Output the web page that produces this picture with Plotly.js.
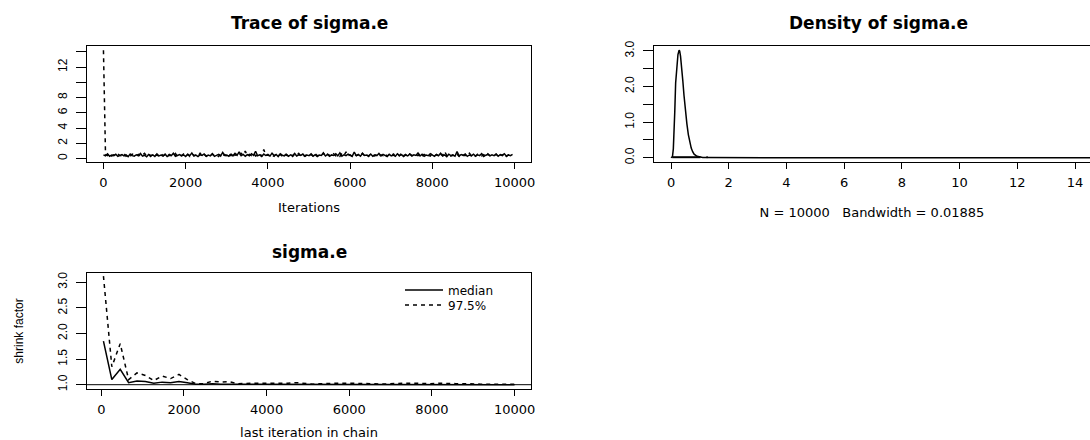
<!DOCTYPE html>
<html>
<head>
<meta charset="utf-8">
<script src="https://cdn.plot.ly/plotly-3.0.1.min.js"></script>
<style>html,body{margin:0;padding:0;background:#fff;}#chart{width:1090px;height:440px;}</style>
</head>
<body>
<div id="chart"></div>
<script>
// ---------- DATA ----------
// Trace of sigma.e: two chains, one value read every 50 iterations
const thinStep = 50;
const chain1 = [
0.48,0.35,0.61,0.29,0.44,0.38,0.55,0.27,0.41,0.52,
0.33,0.46,0.24,0.58,0.37,0.30,0.49,0.36,0.66,0.31,
0.43,0.22,0.53,0.39,0.47,0.28,0.62,0.34,0.45,0.32,
0.57,0.26,0.42,0.37,0.68,0.29,0.40,0.51,0.33,0.48,
0.27,0.56,0.38,0.73,0.31,0.45,0.25,0.50,0.40,0.59,
0.30,0.46,0.35,0.64,0.28,0.43,0.55,0.32,0.79,0.39,
0.44,0.29,0.57,0.35,0.67,0.42,0.88,0.37,0.53,0.30,
0.50,0.34,0.62,0.41,0.95,0.36,0.48,0.27,0.58,0.39,
0.45,0.31,0.70,0.38,0.52,0.26,0.61,0.43,0.34,0.56,
0.29,0.47,0.37,0.66,0.32,0.49,0.41,0.58,0.28,0.44,
0.36,0.60,0.31,0.51,0.25,0.45,0.39,0.69,0.33,0.54,
0.28,0.47,0.40,0.63,0.35,0.74,0.30,0.49,0.38,0.57,
0.43,0.27,0.85,0.36,0.52,0.31,0.64,0.40,0.46,0.33,
0.59,0.29,0.48,0.37,0.67,0.32,0.53,0.42,0.26,0.55,
0.34,0.44,0.30,0.61,0.38,0.50,0.27,0.46,0.35,0.58,
0.31,0.49,0.41,0.72,0.33,0.55,0.29,0.45,0.37,0.63,
0.40,0.28,0.52,0.36,0.68,0.32,0.47,0.25,0.56,0.39,
0.44,0.30,0.91,0.35,0.51,0.42,0.60,0.28,0.46,0.34,
0.57,0.31,0.48,0.38,0.65,0.27,0.43,0.53,0.33,0.47,
0.36,0.59,0.29,0.50,0.40,0.62,0.32,0.45,0.37,0.54];
const chain2 = [
14.20,0.52,0.38,0.61,0.33,0.47,0.29,0.56,0.40,0.35,
0.64,0.31,0.49,0.27,0.58,0.42,0.36,0.53,0.30,0.45,
0.69,0.34,0.50,0.26,0.57,0.39,0.44,0.32,0.62,0.37,
0.48,0.28,0.55,0.41,0.35,0.66,0.30,0.46,0.38,0.59,
0.33,0.52,0.27,0.61,0.40,0.47,0.31,0.70,0.36,0.54,
0.29,0.49,0.42,0.58,0.34,0.45,0.26,0.63,0.38,0.51,
0.32,0.60,0.37,0.82,0.41,0.56,0.30,0.67,0.44,0.98,
0.35,0.53,0.39,0.71,0.33,0.48,0.62,0.29,1.18,0.40,
0.55,0.34,0.46,0.28,0.60,0.37,0.50,0.31,0.64,0.42,
0.36,0.57,0.27,0.49,0.39,0.68,0.33,0.45,0.30,0.59,
0.41,0.52,0.28,0.63,0.35,0.47,0.38,0.74,0.32,0.56,
0.43,0.29,0.61,0.36,0.50,0.27,0.66,0.40,0.86,0.34,
0.48,0.31,0.57,0.39,0.45,0.33,0.70,0.37,0.53,0.28,
0.62,0.41,0.35,0.55,0.30,0.47,0.38,0.64,0.32,0.51,
0.26,0.59,0.40,0.46,0.34,0.73,0.36,0.52,0.29,0.58,
0.42,0.33,0.49,0.37,0.61,0.28,0.54,0.39,0.45,0.31,
0.67,0.35,0.50,0.27,0.56,0.41,0.93,0.38,0.60,0.32,
0.47,0.36,0.55,0.29,0.63,0.40,0.44,0.33,0.69,0.37,
0.52,0.30,0.58,0.42,0.35,0.49,0.27,0.61,0.39,0.46,
0.34,0.57,0.31,0.53,0.38,0.65,0.28,0.48,0.41,0.50];
const traceTicks = [0, 2000, 4000, 6000, 8000, 10000];
const traceYTicks = [0, 2, 4, 6, 8, 10, 12, 14];
const traceYLabels = ['0', '2', '4', '6', '8', '', '12', ''];

// Density of sigma.e
const densX = [0.00,0.05,0.08,0.10,0.13,0.16,0.20,0.24,0.28,0.30,0.33,0.37,0.41,0.45,0.50,0.55,0.60,0.65,0.70,0.75,0.80,0.90,1.00,1.10,1.25,1.50,2,4,6,8,10,12,14,14.55];
const densY = [0.00,0.03,0.25,0.60,1.30,2.10,2.60,2.90,3.02,3.00,2.85,2.55,2.15,1.75,1.30,0.95,0.65,0.42,0.27,0.17,0.10,0.04,0.015,0.006,0.003,0.001,0,0,0,0,0,0,0,0];
const rugObs = [0.04,0.10,0.20,0.30,0.40,0.50,0.60,0.70,0.80,0.90,1.02];
const rugIsolated = [1.25];
const rugHeight = 0.015;
const densTicks = [0, 2, 4, 6, 8, 10, 12, 14];
const densYTicks = [0, 0.5, 1, 1.5, 2, 2.5, 3];
const densYLabels = ['0.0', '', '1.0', '', '2.0', '', '3.0'];
const densLabel = 'N = 10000\u00a0\u00a0\u00a0Bandwidth = 0.01885';

// Gelman shrink factor
const gelIter = [51,254,457,660,863,1066,1269,1472,1675,1878,2081,2284,2487,2690,2893,3096,3299,3502,3705,3908,4111,4314,4517,4720,4923,5126,5329,5532,5735,5938,6141,6344,6547,6750,6953,7156,7359,7562,7765,7968,8171,8374,8577,8780,8983,9186,9389,9592,9795,10000];
const gelMedian = [1.85,1.10,1.30,1.04,1.07,1.06,1.03,1.05,1.04,1.06,1.04,1.01,1.01,1.02,1.01,1.01,1.00,1.01,1.01,1.01,1.01,1.00,1.01,1.01,1.00,1.00,1.00,1.01,1.01,1.01,1.01,1.01,1.00,1.00,1.00,1.01,1.01,1.01,1.00,1.00,1.00,1.00,1.00,1.00,1.00,1.00,1.00,1.00,1.00,1.00];
const gel975 = [3.12,1.35,1.80,1.10,1.23,1.18,1.08,1.17,1.12,1.20,1.10,1.02,1.02,1.07,1.05,1.06,1.02,1.03,1.03,1.03,1.03,1.02,1.03,1.04,1.02,1.01,1.02,1.03,1.03,1.03,1.03,1.03,1.02,1.01,1.02,1.03,1.03,1.03,1.02,1.02,1.03,1.02,1.02,1.02,1.01,1.01,1.01,1.01,1.01,1.01];
const gelYTicks = [1, 1.5, 2, 2.5, 3];
const gelYLabels = ['1.0', '1.5', '2.0', '2.5', '3.0'];
const shrinkRef = 1;

// ---------- PLOT ----------
const W = 1090, H = 440;
const px = v => v / W;
const py = v => 1 - v / H;
const iters = arr => arr.map((_, i) => 1 + i * thinStep);

const HFONT = 'DejaVu Sans, Verdana, sans-serif';
const VFONT = 'Liberation Sans, Arial, sans-serif';
const R_DASH = '4px,4px';
const LW = 1.5;

const traces = [
  {x: iters(chain1), y: chain1, xaxis: 'x', yaxis: 'y', type: 'scatter', mode: 'lines',
   line: {color: '#000', width: LW}, showlegend: false, hoverinfo: 'skip'},
  {x: iters(chain2), y: chain2, xaxis: 'x', yaxis: 'y', type: 'scatter', mode: 'lines',
   line: {color: '#000', width: LW, dash: R_DASH}, showlegend: false, hoverinfo: 'skip'},
  {x: densX, y: densY, xaxis: 'x2', yaxis: 'y2', type: 'scatter', mode: 'lines',
   line: {color: '#000', width: LW}, showlegend: false, hoverinfo: 'skip'},
  {x: rugObs, y: rugObs.map(() => rugHeight), xaxis: 'x2', yaxis: 'y2', type: 'scatter', mode: 'lines',
   line: {color: '#000', width: 2}, showlegend: false, hoverinfo: 'skip'},
  {x: rugIsolated, y: rugIsolated.map(() => rugHeight), xaxis: 'x2', yaxis: 'y2', type: 'scatter', mode: 'markers',
   marker: {color: '#000', size: 2}, showlegend: false, hoverinfo: 'skip'},
  {x: gelIter, y: gelMedian, xaxis: 'x3', yaxis: 'y3', type: 'scatter', mode: 'lines', name: 'median',
   legend: 'legend', line: {color: '#000', width: LW}, hoverinfo: 'skip'},
  {x: gelIter, y: gel975, xaxis: 'x3', yaxis: 'y3', type: 'scatter', mode: 'lines', name: '97.5%',
   legend: 'legend2', line: {color: '#000', width: LW, dash: R_DASH}, hoverinfo: 'skip'}
];

const xBase = {
  ticks: 'outside', ticklen: 6, tickwidth: 1, tickcolor: '#000', ticklabelstandoff: 2,
  showline: true, mirror: true, linecolor: '#000', linewidth: 1,
  showgrid: false, zeroline: false, fixedrange: true,
  tickfont: {family: HFONT, size: 13, color: '#000'},
  title: {font: {family: HFONT, size: 13, color: '#000'}, standoff: 14}
};
const yBase = {
  ticks: 'outside', ticklen: 10, tickwidth: 1, tickcolor: '#000', ticklabelstandoff: 4,
  showline: true, mirror: true, linecolor: '#000', linewidth: 1,
  showgrid: false, zeroline: false, fixedrange: true, tickangle: -90,
  tickfont: {family: VFONT, size: 12, color: '#000'}
};
const legBase = {
  xanchor: 'left', yanchor: 'middle', bgcolor: 'rgba(0,0,0,0)', borderwidth: 0,
  font: {family: HFONT, size: 12, color: '#000'}, itemwidth: 38, tracegroupgap: 0
};

const layout = {
  width: W, height: H,
  margin: {l: 0, r: 0, t: 0, b: 0},
  paper_bgcolor: '#fff', plot_bgcolor: '#fff',
  font: {family: HFONT, size: 13, color: '#000'},
  showlegend: true,
  legend: Object.assign({}, legBase, {x: px(400), y: py(290)}),
  legend2: Object.assign({}, legBase, {x: px(400), y: py(305)}),
  xaxis: Object.assign({}, xBase, {domain: [px(87), px(531)], range: [-399, 10400], anchor: 'y',
    tickmode: 'array', tickvals: traceTicks, ticktext: traceTicks.map(String),
    title: Object.assign({}, xBase.title, {text: 'Iterations'})}),
  yaxis: Object.assign({}, yBase, {domain: [py(162), py(46)], range: [-0.46, 14.76], anchor: 'x',
    tickmode: 'array', tickvals: traceYTicks, ticktext: traceYLabels}),
  xaxis2: Object.assign({}, xBase, {domain: [px(654), 1], range: [-0.59, 14.52], anchor: 'y2',
    tickmode: 'array', tickvals: densTicks, ticktext: densTicks.map(String),
    title: Object.assign({}, xBase.title, {text: densLabel, standoff: 19})}),
  yaxis2: Object.assign({}, yBase, {domain: [py(162), py(46)], range: [-0.12, 3.14], anchor: 'x2',
    mirror: false, tickmode: 'array', tickvals: densYTicks, ticktext: densYLabels}),
  xaxis3: Object.assign({}, xBase, {domain: [px(87), px(531)], range: [-347, 10398], anchor: 'y3',
    tickmode: 'array', tickvals: traceTicks, ticktext: traceTicks.map(String),
    title: Object.assign({}, xBase.title, {text: 'last iteration in chain'})}),
  yaxis3: Object.assign({}, yBase, {domain: [py(389), py(273)], range: [0.916, 3.18], anchor: 'x3',
    tickmode: 'array', tickvals: gelYTicks, ticktext: gelYLabels,
    title: {text: 'shrink factor', font: {family: VFONT, size: 12, color: '#000'}, standoff: 30}}),
  shapes: [
    {type: 'line', xref: 'x3 domain', x0: 0, x1: 1, yref: 'y3', y0: shrinkRef, y1: shrinkRef,
     line: {color: '#000', width: 1}}
  ],
  annotations: [
    {text: '<b>Trace of sigma.e</b>', xref: 'paper', yref: 'paper', x: px(309), y: py(23),
     xanchor: 'center', yanchor: 'middle', showarrow: false, font: {family: HFONT, size: 17, color: '#000'}},
    {text: '<b>Density of sigma.e</b>', xref: 'paper', yref: 'paper', x: px(878), y: py(23),
     xanchor: 'center', yanchor: 'middle', showarrow: false, font: {family: HFONT, size: 17, color: '#000'}},
    {text: '<b>sigma.e</b>', xref: 'paper', yref: 'paper', x: px(309), y: py(252),
     xanchor: 'center', yanchor: 'middle', showarrow: false, font: {family: HFONT, size: 17, color: '#000'}}
  ]
};

Plotly.newPlot('chart', traces, layout, {staticPlot: true, displayModeBar: false});
</script>
</body>
</html>
